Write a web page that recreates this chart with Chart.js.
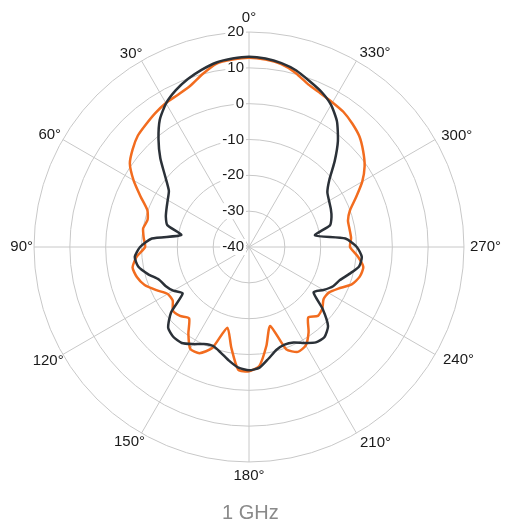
<!DOCTYPE html>
<html>
<head>
<meta charset="utf-8">
<script src="https://cdn.jsdelivr.net/npm/chart.js@4/dist/chart.umd.min.js"></script>
<style>
  html, body { margin: 0; background: #fff; }
  #wrap { width: 508px; height: 532px; }
</style>
</head>
<body>
<div id="wrap"><canvas id="polar"></canvas></div>
<script>
// angles in degrees, counter-clockwise from the top
const angles = [0, 5, 10, 15, 20, 25, 30, 35, 40, 45, 50, 55, 60, 65, 70, 75, 80, 85,
  90, 95, 100, 105, 110, 115, 120, 125, 130, 135, 140, 145, 150, 155, 160, 165, 170, 175,
  180, 185, 190, 195, 200, 205, 210, 215, 220, 225, 230, 235, 240, 245, 250, 255, 260, 265,
  270, 275, 280, 285, 290, 295, 300, 305, 310, 315, 320, 325, 330, 335, 340, 345, 350, 355];

// dB, dark trace
const darkTrace = [13.1, 12.8, 12.3, 11.2, 9.9, 8.3, 6.3, 3.4, -0.7, -5.0, -9.5, -12.7, -13.8, -14.6, -15.3, -16.4, -20.8, -12.8,
  -9.6, -8.0, -8.6, -10.8, -13.3, -14.3, -15.6, -17.4, -11.6, -8.1, -7.2, -7.3, -8.7, -10.1, -10.6, -9.5, -7.8, -6.2,
  -5.6, -6.2, -8.4, -10.3, -11.0, -10.6, -9.1, -7.5, -7.2, -8.8, -13.2, -18.0, -16.0, -14.1, -13.0, -11.0, -8.8, -8.4,
  -9.9, -13.0, -21.3, -16.6, -15.5, -14.8, -14.2, -13.3, -10.7, -6.2, -1.4, 2.8, 5.8, 7.8, 9.3, 11.0, 12.1, 12.8];

// dB, orange trace
const orangeTrace = [12.8, 12.5, 12.0, 10.0, 7.9, 6.9, 6.4, 5.6, 4.7, 3.9, 2.4, 0.6, -2.8, -6.6, -9.8, -10.7, -10.0, -10.5,
  -11.0, -8.5, -7.0, -7.6, -9.0, -11.5, -13.8, -14.0, -12.3, -12.8, -14.0, -10.5, -7.2, -7.3, -10.0, -16.7, -11.5, -5.6,
  -5.3, -6.7, -12.0, -17.2, -9.6, -7.7, -8.3, -11.0, -14.3, -12.8, -13.3, -14.6, -14.4, -12.5, -9.5, -8.0, -7.6, -9.5,
  -11.8, -11.4, -11.5, -11.4, -10.0, -7.0, -3.5, -0.6, 1.6, 3.6, 4.9, 6.0, 6.6, 7.3, 8.3, 10.3, 11.8, 12.5];

const ringTicks = [-40, -30, -20, -10, 0, 10, 20];

// per-label nudges: gap from the outer ring, and line box height
const labelGap = { 0: 5, 30: -2, 60: 2, 90: 1, 120: -1, 150: -7, 180: 5, 210: 7, 240: 9, 270: 6, 300: 7, 330: 6 };
const labelLine = { 60: '7px', 120: '13px', 150: '30px', 210: '7px', 240: '1px', 300: '0px', 330: '6px' };

// radar runs clockwise, the plot runs counter-clockwise
const order = angles.map((a, i) => (angles.length - i) % angles.length);
const labels = order.map(i => angles[i]);
const cw = arr => order.map(i => arr[i]);

const gridColor = '#c8c8c8';
const fontFamily = '"Liberation Sans", Arial, Helvetica, sans-serif';

const tickLabels = {
  id: 'tickLabels',
  beforeDatasetsDraw(chart) {
    const s = chart.scales.r;
    const c = chart.ctx;
    c.save();
    c.font = '15px ' + fontFamily;
    c.textAlign = 'right';
    c.textBaseline = 'middle';
    ringTicks.forEach(v => {
      const y = s.yCenter - s.getDistanceFromCenterForValue(v);
      const txt = String(v);
      const w = c.measureText(txt).width;
      c.fillStyle = '#fff';
      c.fillRect(s.xCenter - 5 - w - 2, y - 8, w + 4, 16);
      c.fillStyle = '#1a1a1a';
      c.fillText(txt, s.xCenter - 5, y);
    });
    c.restore();
  }
};

new Chart(document.getElementById('polar'), {
  type: 'radar',
  data: {
    labels: labels,
    datasets: [
      { label: 'dark', data: cw(darkTrace), borderColor: '#2b3138', borderWidth: 2.5, fill: false, pointRadius: 0, tension: 0.2 },
      { label: 'orange', data: cw(orangeTrace), borderColor: '#f26c1f', borderWidth: 2.5, fill: false, pointRadius: 0, tension: 0.2 }
    ]
  },
  options: {
    responsive: true,
    maintainAspectRatio: false,
    animation: false,
    layout: { padding: { top: 9, left: 4 } },
    plugins: {
      legend: { display: false },
      tooltip: { enabled: false },
      title: {
        display: true,
        position: 'bottom',
        text: '1 GHz  ',
        color: '#8a8a8a',
        font: { size: 20, weight: 'normal', family: fontFamily },
        padding: { top: 15, bottom: 7 }
      }
    },
    scales: {
      r: {
        min: -40,
        max: 20,
        ticks: { display: false, stepSize: 10 },
        grid: { color: gridColor, lineWidth: 1, circular: true },
        angleLines: {
          color: gridColor,
          lineWidth: ctx => (labels[ctx.index] % 30 === 0 ? 1 : 0)
        },
        pointLabels: {
          color: '#1a1a1a',
          padding: ctx => labelGap[labels[ctx.index]] ?? 5,
          font: ctx => ({ size: 15, family: fontFamily, lineHeight: labelLine[labels[ctx.index]] ?? 1.2 }),
          callback: (label) => (label % 30 === 0 ? label + '°' : '')
        }
      }
    }
  },
  plugins: [tickLabels]
});
</script>
</body>
</html>
